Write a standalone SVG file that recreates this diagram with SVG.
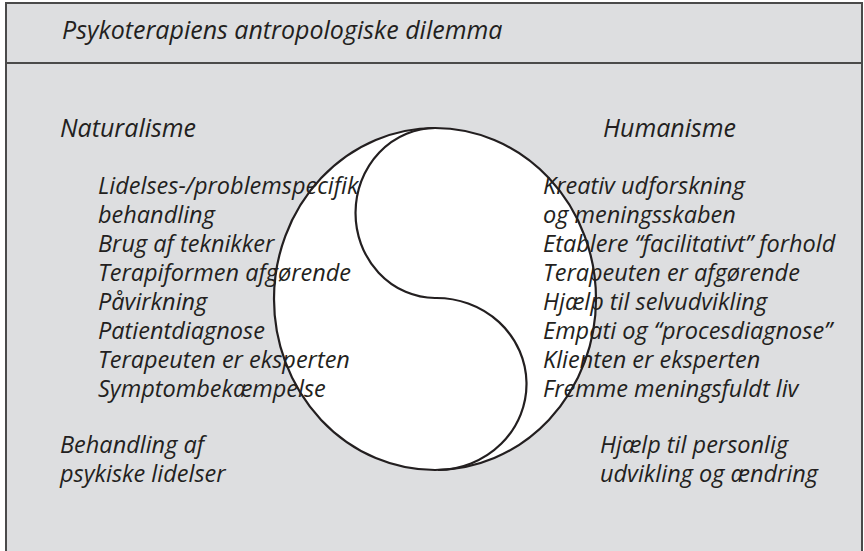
<svg xmlns="http://www.w3.org/2000/svg" width="864" height="551" viewBox="0 0 864 551">
<style>
text{font-family:"Open Sans","Liberation Sans",sans-serif;font-style:italic;font-size:23.5px;fill:#231f20}
.t{font-size:25px}
.line{fill:none;stroke:#231f20;stroke-width:2.2}
</style>
<rect x="0" y="0" width="864" height="551" fill="#ffffff"/>
<rect x="6" y="3" width="856" height="560" fill="#dddee0" stroke="#4a4a4a" stroke-width="2"/>
<line x1="6" y1="63" x2="862" y2="63" stroke="#4a4a4a" stroke-width="2"/>
<g id="title"><text class="t" x="62" y="39">Psykoterapiens antropologiske dilemma</text></g>
<g id="circle-fill"><ellipse cx="435" cy="299" rx="161" ry="171" fill="#ffffff"/></g>
<g id="naturalisme">
<text class="t" x="60" y="137">Naturalisme</text>
<text x="98" y="194">Lidelses-/problemspecifik</text>
<text x="98" y="223">behandling</text>
<text x="98" y="252">Brug af teknikker</text>
<text x="98" y="281">Terapiformen afgørende</text>
<text x="98" y="310">Påvirkning</text>
<text x="98" y="339">Patientdiagnose</text>
<text x="98" y="368">Terapeuten er eksperten</text>
<text x="98" y="397">Symptombekæmpelse</text>
<text x="60" y="453">Behandling af</text>
<text x="60" y="482">psykiske lidelser</text>
</g>
<g id="humanisme">
<text class="t" x="603" y="137">Humanisme</text>
<text x="543" y="194">Kreativ udforskning</text>
<text x="543" y="223">og meningsskaben</text>
<text x="543" y="252">Etablere “facilitativt” forhold</text>
<text x="543" y="281">Terapeuten er afgørende</text>
<text x="543" y="310">Hjælp til selvudvikling</text>
<text x="543" y="339">Empati og “procesdiagnose”</text>
<text x="543" y="368">Klienten er eksperten</text>
<text x="543" y="397">Fremme meningsfuldt liv</text>
<text x="600" y="453">Hjælp til personlig</text>
<text x="600" y="482">udvikling og ændring</text>
</g>
<g id="yinyang">
<ellipse class="line" cx="435" cy="299" rx="161" ry="171"/>
<path class="line" d="M 436 128 A 80 85 0 0 0 435 298 A 90 86 0 0 1 438 470"/>
</g>
</svg>
